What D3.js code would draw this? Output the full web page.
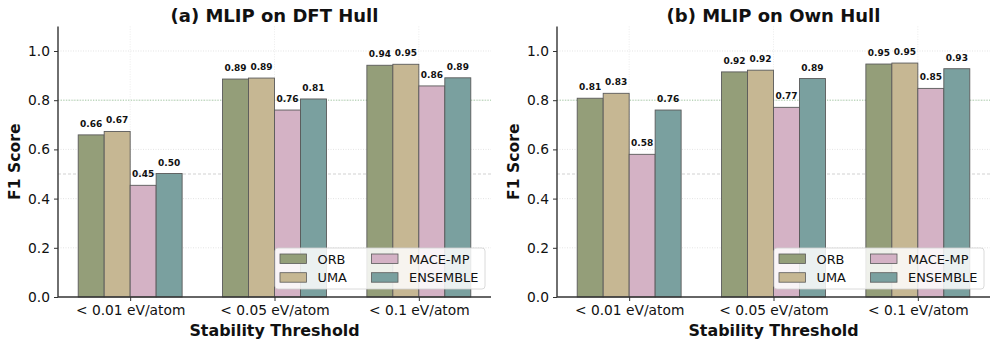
<!DOCTYPE html>
<html><head><meta charset="utf-8">
<script src="https://cdn.jsdelivr.net/npm/d3@7"></script>
<style>body{margin:0;background:#fff;font-family:"DejaVu Sans",sans-serif;}</style>
</head><body>
<svg id="c" width="997" height="347"></svg>
<script>
const categories = ["< 0.01 eV/atom", "< 0.05 eV/atom", "< 0.1 eV/atom"];
const models = ["ORB", "UMA", "MACE-MP", "ENSEMBLE"];
const colors = ["#949e79", "#c6b793", "#d4b2c5", "#7aa09f"];
const yTicks = [0.0, 0.2, 0.4, 0.6, 0.8, 1.0];
const titles = ["(a) MLIP on DFT Hull", "(b) MLIP on Own Hull"];
// panel (a): DFT hull
const dftORB = [0.659, 0.886, 0.942];
const dftUMA = [0.673, 0.890, 0.946];
const dftMACE = [0.454, 0.760, 0.858];
const dftENS = [0.502, 0.805, 0.891];
// panel (b): own hull
const ownORB = [0.808, 0.915, 0.947];
const ownUMA = [0.828, 0.922, 0.951];
const ownMACE = [0.580, 0.771, 0.848];
const ownENS = [0.760, 0.888, 0.928];

const panels = [
  {title: titles[0], series: [dftORB, dftUMA, dftMACE, dftENS], x0: 58, x1: 491},
  {title: titles[1], series: [ownORB, ownUMA, ownMACE, ownENS], x0: 557, x1: 990}
];
const svg = d3.select("#c");
const yTop = 26.4, yBot = 297;

panels.forEach(p => {
  const g = svg.append("g");
  const x = d3.scaleLinear().domain([-0.5, 2.5]).range([p.x0, p.x1]);
  const y = d3.scaleLinear().domain([0, 1.1]).range([yBot, yTop]);
  const bw = 0.18;
  // grid
  g.selectAll(".hg").data(yTicks.slice(1)).join("line")
    .attr("x1", p.x0).attr("x2", p.x1).attr("y1", d => y(d)).attr("y2", d => y(d))
    .attr("stroke", "#d8d8d8").attr("stroke-width", 0.7).attr("stroke-dasharray", "1,1.5");
  g.selectAll(".vg").data(categories).join("line")
    .attr("x1", (d, i) => x(i)).attr("x2", (d, i) => x(i)).attr("y1", yTop).attr("y2", yBot)
    .attr("stroke", "#e4e4e4").attr("stroke-width", 0.7).attr("stroke-dasharray", "1,1.5");
  // reference lines
  g.append("line").attr("x1", p.x0).attr("x2", p.x1).attr("y1", y(0.8)).attr("y2", y(0.8))
    .attr("stroke", "#9cc79c").attr("stroke-width", 0.9).attr("stroke-dasharray", "1.2,1.5");
  g.append("line").attr("x1", p.x0).attr("x2", p.x1).attr("y1", y(0.5)).attr("y2", y(0.5))
    .attr("stroke", "#cccccc").attr("stroke-width", 0.9).attr("stroke-dasharray", "3,2");
  // bars
  p.series.forEach((vals, m) => {
    const off = (m - 1.5) * bw;
    g.selectAll(".b" + m).data(vals).join("rect")
      .attr("x", (d, i) => x(i + off - bw / 2))
      .attr("y", d => y(d))
      .attr("width", x(bw) - x(0))
      .attr("height", d => yBot - y(d))
      .attr("fill", colors[m]).attr("stroke", "#5a5a5a").attr("stroke-width", 0.9);
    g.selectAll(".l" + m).data(vals).join("text")
      .attr("x", (d, i) => x(i + off))
      .attr("y", d => y(d) - 8)
      .attr("text-anchor", "middle").attr("font-size", 9).attr("font-weight", "bold")
      .attr("fill", "#111").text(d => d3.format(".2f")(d));
  });
  // axes
  const ya = d3.axisLeft(y).tickValues(yTicks).tickFormat(d3.format(".1f")).tickSize(4).tickPadding(4);
  const yg = g.append("g").attr("transform", `translate(${p.x0},0)`).call(ya);
  yg.select(".domain").attr("d", `M0,${yTop}V${yBot}`);
  const xa = d3.axisBottom(x).tickValues([0, 1, 2]).tickFormat(i => categories[i]).tickSize(4).tickPadding(4);
  const xg = g.append("g").attr("transform", `translate(0,${yBot})`).call(xa);
  xg.select(".domain").attr("d", `M${p.x0},0H${p.x1}`);
  [yg, xg].forEach(a => {
    a.select(".domain").attr("stroke", "#333").attr("stroke-width", 1.4);
    a.selectAll(".tick line").attr("stroke", "#333").attr("stroke-width", 1);
    a.selectAll(".tick text").attr("font-size", 13.8).attr("font-family", "DejaVu Sans").attr("fill", "#111");
  });
  // titles and labels
  const cx = (p.x0 + p.x1) / 2;
  g.append("text").attr("x", cx).attr("y", 21.5).attr("text-anchor", "middle")
    .attr("font-size", 18).attr("font-weight", "bold").attr("fill", "#111").text(p.title);
  g.append("text").attr("x", cx).attr("y", 335.5).attr("text-anchor", "middle")
    .attr("font-size", 15.9).attr("font-weight", "bold").attr("fill", "#111").text("Stability Threshold");
  g.append("text").attr("transform", `translate(${p.x0 - 38.5},${(yTop + yBot) / 2}) rotate(-90)`)
    .attr("text-anchor", "middle").attr("font-size", 15.6).attr("font-weight", "bold")
    .attr("fill", "#111").text("F1 Score");
  // legend
  const lx = p.x1 - 216, ly = 248;
  const lg = g.append("g").attr("transform", `translate(${lx},${ly})`);
  lg.append("rect").attr("width", 210).attr("height", 41).attr("rx", 3)
    .attr("fill", "rgba(255,255,255,0.85)").attr("stroke", "#d0d0d0").attr("stroke-width", 0.8);
  models.forEach((m, i) => {
    const col = Math.floor(i / 2), row = i % 2;
    const ex = 5 + col * 91.5, ey = 6 + row * 18.7;
    lg.append("rect").attr("x", ex).attr("y", ey).attr("width", 26.5).attr("height", 9.5)
      .attr("fill", colors[i]).attr("stroke", "#5a5a5a").attr("stroke-width", 0.8);
    lg.append("text").attr("x", ex + 37.5).attr("y", ey + 9.5).attr("font-size", 12.9)
      .attr("fill", "#111").text(m);
  });
});
</script>
</body></html>
